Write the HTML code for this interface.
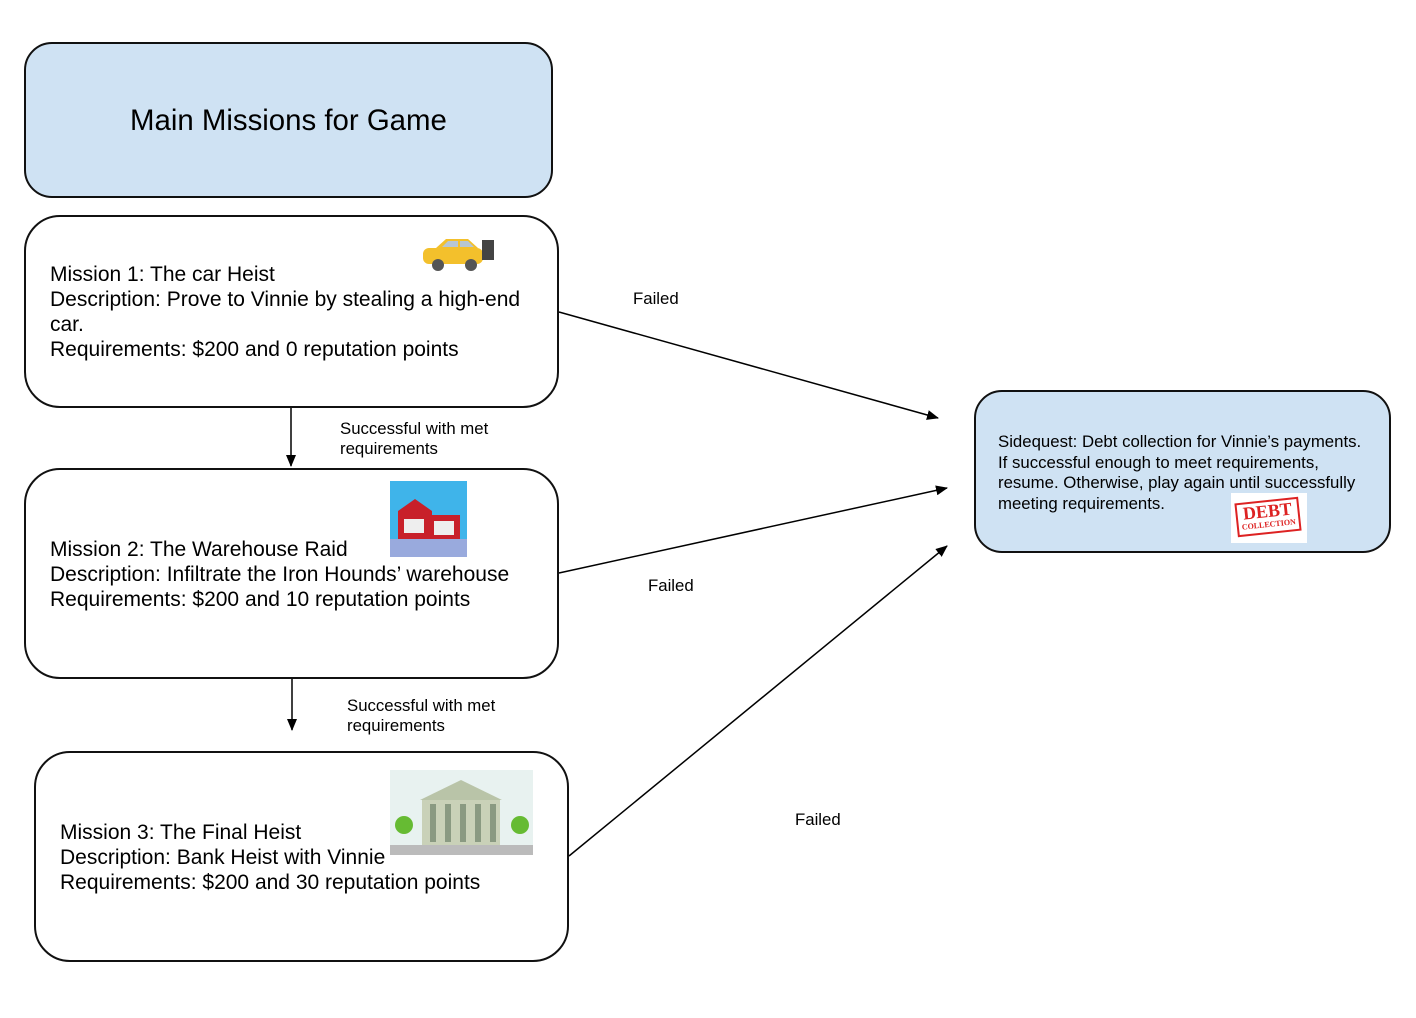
<!DOCTYPE html>
<html><head><style>
body{margin:0;width:1416px;height:1018px;background:#fff;position:relative;font-family:"Liberation Sans",Arial,sans-serif;overflow:hidden}
.b{position:absolute;border:2px solid #111;box-sizing:border-box;background:#fff}
.t{position:absolute;color:#000;white-space:nowrap}
.l{position:absolute;font-size:16.8px;line-height:20px}
</style></head><body>
<div class="b" style="left:24px;top:42px;width:529px;height:156px;border-radius:28px;background:#cfe2f3"></div>
<div class="t" style="left:130px;top:104px;font-size:29.4px">Main Missions for Game</div>

<div class="b" style="left:24px;top:215px;width:535px;height:193px;border-radius:36px"></div>
<div class="t" style="left:50px;top:262px;font-size:21px;line-height:25px">Mission 1: The car Heist<br>Description: Prove to Vinnie by stealing a high-end<br>car.<br>Requirements: $200 and 0 reputation points</div>
<svg style="position:absolute;left:418px;top:236px" width="82" height="38"><rect x="5" y="12" width="60" height="16" rx="6" fill="#f3c02c"/><path d="M18 12 L28 3 H50 L60 12Z" fill="#f3c02c"/><path d="M24 11 L30 5 H40 V11Z M42 5 H50 L56 11 H42Z" fill="#b7c6d3"/><circle cx="20" cy="29" r="6" fill="#555"/><circle cx="53" cy="29" r="6" fill="#555"/><rect x="64" y="4" width="12" height="20" fill="#444"/></svg>

<div class="b" style="left:24px;top:468px;width:535px;height:211px;border-radius:36px"></div>
<div class="t" style="left:50px;top:537px;font-size:21px;line-height:25px">Mission 2: The Warehouse Raid<br>Description: Infiltrate the Iron Hounds’ warehouse<br>Requirements: $200 and 10 reputation points</div>
<svg style="position:absolute;left:390px;top:481px" width="77" height="76"><rect width="77" height="76" fill="#3fb4ea"/><rect x="0" y="58" width="77" height="18" fill="#9ad"/><path d="M8 30 L25 18 L42 30 V58 H8Z" fill="#c8202a"/><path d="M38 34 H70 V58 H38Z" fill="#c8202a"/><rect x="14" y="38" width="20" height="14" fill="#eee"/><rect x="44" y="40" width="20" height="14" fill="#eee"/></svg>

<div class="b" style="left:34px;top:751px;width:535px;height:211px;border-radius:36px"></div>
<div class="t" style="left:60px;top:820px;font-size:21px;line-height:25px">Mission 3: The Final Heist<br>Description: Bank Heist with Vinnie<br>Requirements: $200 and 30 reputation points</div>
<svg style="position:absolute;left:390px;top:770px" width="143" height="85"><rect width="143" height="85" fill="#e8f2f0"/><path d="M30 30 L71 10 L112 30Z" fill="#b9c4a8"/><rect x="32" y="30" width="78" height="45" fill="#c9d1b8"/><g fill="#8a9a82"><rect x="40" y="34" width="6" height="38"/><rect x="55" y="34" width="6" height="38"/><rect x="70" y="34" width="6" height="38"/><rect x="85" y="34" width="6" height="38"/><rect x="100" y="34" width="6" height="38"/></g><circle cx="14" cy="55" r="9" fill="#6b3"/><circle cx="130" cy="55" r="9" fill="#6b3"/><rect x="0" y="75" width="143" height="10" fill="#bbb"/></svg>

<div class="b" style="left:974px;top:390px;width:417px;height:163px;border-radius:28px;background:#cfe2f3"></div>
<div class="t" style="left:998px;top:432px;font-size:16.8px;line-height:20.5px">Sidequest: Debt collection for Vinnie’s payments.<br>If successful enough to meet requirements,<br>resume. Otherwise, play again until successfully<br>meeting requirements.</div>
<div style="position:absolute;left:1231px;top:493px;width:76px;height:50px;background:#fff"></div>
<div style="position:absolute;left:1236px;top:500px;width:64px;height:34px;border:2px solid #d22;box-sizing:border-box;transform:rotate(-6deg);color:#d22;font-family:'Liberation Serif',serif;font-weight:bold;text-align:center;font-size:18px;line-height:18px">DEBT<div style="font-size:8px;line-height:10px">COLLECTION</div></div>

<svg style="position:absolute;left:0;top:0" width="1416" height="1018">
<defs><marker id="a" markerWidth="12" markerHeight="10" refX="11" refY="5" orient="auto" markerUnits="userSpaceOnUse"><path d="M0 0 L12 5 L0 10Z" fill="#000"/></marker></defs>
<g stroke="#000" stroke-width="1.5" fill="none">
<line x1="291" y1="408" x2="291" y2="466" marker-end="url(#a)"/>
<line x1="292" y1="679" x2="292" y2="730" marker-end="url(#a)"/>
<line x1="559" y1="312" x2="938" y2="418" marker-end="url(#a)"/>
<line x1="559" y1="573" x2="947" y2="488" marker-end="url(#a)"/>
<line x1="569" y1="856" x2="947" y2="546" marker-end="url(#a)"/>
</g></svg>
<div class="t l" style="left:633px;top:289px">Failed</div>
<div class="t l" style="left:648px;top:576px">Failed</div>
<div class="t l" style="left:795px;top:810px">Failed</div>
<div class="t l" style="left:340px;top:419px">Successful with met<br>requirements</div>
<div class="t l" style="left:347px;top:696px">Successful with met<br>requirements</div>
</body></html>
